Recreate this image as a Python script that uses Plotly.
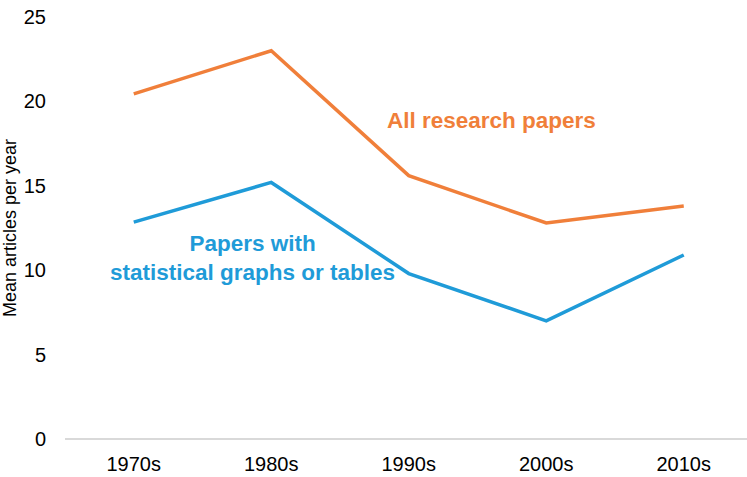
import plotly.graph_objects as go

decades = ["1970s", "1980s", "1990s", "2000s", "2010s"]
all_papers = [20.45, 23.0, 15.6, 12.8, 13.8]
stat_papers = [12.85, 15.2, 9.8, 7.0, 10.9]

orange = "#F07F3A"
blue = "#1F9BD8"

fig = go.Figure()
fig.add_trace(go.Scatter(x=decades, y=all_papers, mode="lines",
                         line=dict(color=orange, width=3.5), name="All research papers"))
fig.add_trace(go.Scatter(x=decades, y=stat_papers, mode="lines",
                         line=dict(color=blue, width=3.5), name="Papers with statistical graphs or tables"))

fig.add_annotation(x=2.602, y=18.85, xref="x", yref="y", text="<b>All research papers</b>",
                   showarrow=False, font=dict(family="Liberation Sans, Arial", size=22.5, color=orange))
fig.add_annotation(x=0.86, y=10.75, xref="x", yref="y",
                   text="<b>Papers with<br>statistical graphs or tables</b>",
                   showarrow=False, align="center",
                   font=dict(family="Liberation Sans, Arial", size=22.5, color=blue))

fig.update_layout(
    width=747, height=477,
    margin=dict(l=65, r=0, t=17, b=38, autoexpand=False),
    plot_bgcolor="white", paper_bgcolor="white",
    showlegend=False,
    font=dict(family="Liberation Sans, Arial", size=20, color="#000000"),
    xaxis=dict(showgrid=False, showline=False, zeroline=False, automargin=False,
               ticks="outside", ticklen=7, tickcolor="rgba(0,0,0,0)",
               range=[-0.5, 4.46], tickfont=dict(size=20)),
    yaxis=dict(range=[0, 25], dtick=5, showgrid=False, showline=False, automargin=False,
               zeroline=True, zerolinecolor="#D9D9D9", zerolinewidth=1.5,
               ticks="outside", ticklen=14, tickcolor="rgba(0,0,0,0)",
               tickfont=dict(size=20),
               title=dict(text="Mean articles per year", font=dict(size=18), standoff=2)),
)

fig.write_html("out.html", config={"displayModeBar": False},
               post_script="document.body.style.margin='0';document.body.style.overflow='hidden';")
